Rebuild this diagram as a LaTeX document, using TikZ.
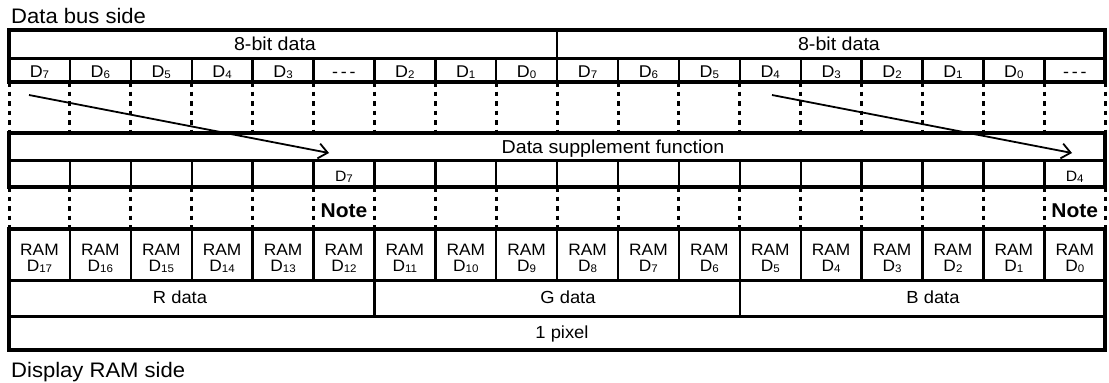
\documentclass[tikz,border=0pt]{standalone}
\usepackage{fontspec}
\setmainfont{Liberation Sans}[FakeStretch=1.05]
\usetikzlibrary{arrows.meta}
\newcommand\Dsub[1]{D\raisebox{-1.2pt}{\fontsize{11}{12}\selectfont #1}}
\begin{document}
\begin{tikzpicture}[x=1pt,y=-1pt,
  frame/.style={line width=3.6pt},
  sep/.style={line width=3pt},
  cellsep/.style={line width=2.4pt},
  thinsep/.style={line width=2pt},
  dots/.style={line width=3pt, dash pattern=on 4.5pt off 5pt},
  side/.style={font=\fontsize{21}{23}\selectfont, inner sep=0pt},
  head/.style={font=\fontsize{18.7}{20}\selectfont, inner sep=0pt},
  grp/.style={font=\fontsize{17.5}{19}\selectfont, inner sep=0pt},
  bit/.style={font=\fontsize{17}{18}\selectfont, inner sep=0pt},
  ramlbl/.style={font=\fontsize{16.5}{18}\selectfont, inner sep=0pt},
  small/.style={font=\fontsize{15}{16}\selectfont, inner sep=0pt},
  note/.style={font=\fontsize{20}{22}\selectfont\bfseries, inner sep=0pt},
  arr/.style={line width=1.8pt, -{Straight Barb[length=9pt,width=15pt,line width=1.8pt]}}
]
\useasboundingbox (0,0) rectangle (1109,383);
\def\xl{9}
\def\cw{60.9}

% side labels
\node[side, anchor=base west] (bus) at (11,23) {Data bus side};
\node[side, anchor=base west] (ram) at (11,377) {Display RAM side};

% ---- data bus section: two 8-bit words ----
\draw[frame] (\xl,30) rectangle (1105.2,82);
\draw[sep] (\xl,58) -- (1105.2,58);
\draw[thinsep] ({\xl+9*\cw},31) -- ({\xl+9*\cw},58);
\foreach \i in {1,...,17}
  \draw[cellsep] ({\xl+\i*\cw},58) -- ({\xl+\i*\cw},82);
\node[head, anchor=base] (w1) at (275,50) {8-bit data};
\node[head, anchor=base] (w2) at (839,50) {8-bit data};
\foreach \t [count=\i from 0] in {\Dsub{7},\Dsub{6},\Dsub{5},\Dsub{4},\Dsub{3},{-\,-\,-},\Dsub{2},\Dsub{1},\Dsub{0},
    \Dsub{7},\Dsub{6},\Dsub{5},\Dsub{4},\Dsub{3},\Dsub{2},\Dsub{1},\Dsub{0},{-\,-\,-}}
  \node[bit, anchor=base] (bus\i) at ({\xl+(\i+0.5)*\cw},77.5) {\t};

% dotted gap between bus and supplement stage
\foreach \i in {0,...,18}
  \draw[dots] ({\xl+\i*\cw},82) -- ({\xl+\i*\cw},133);

% ---- data supplement stage ----
\draw[frame] (\xl,133) rectangle (1105.2,187);
\draw[sep] (\xl,160) -- (1105.2,160);
\foreach \i in {1,...,17}
  \draw[cellsep] ({\xl+\i*\cw},160) -- ({\xl+\i*\cw},187);
\node[head, anchor=base] (dsf) at (613,153) {Data supplement function};
\node[small, anchor=base] (sup5) at ({\xl+5.5*\cw},181) {\Dsub{7}};
\node[small, anchor=base] (sup17) at ({\xl+17.5*\cw},181) {\Dsub{4}};

% copy arrows: MSB of each word into the supplemented bit
\coordinate (a1s) at (29,95);
\coordinate (a1e) at (329,153);
\coordinate (a2s) at (772,95);
\coordinate (a2e) at (1072,153);
\draw[arr] (a1s) -- (a1e);
\draw[arr] (a2s) -- (a2e);

% dotted gap between supplement stage and RAM
\foreach \i in {0,...,18}
  \draw[dots] ({\xl+\i*\cw},187) -- ({\xl+\i*\cw},229);
\node[note, anchor=base] (note5) at ({\xl+5.5*\cw},217) {Note};
\node[note, anchor=base] (note17) at ({\xl+17.5*\cw},217) {Note};

% ---- display RAM section ----
\draw[frame] (\xl,229) rectangle (1105.2,350);
\draw[sep] (\xl,280) -- (1105.2,280);
\draw[sep] (\xl,316.5) -- (1105.2,316.5);
\foreach \i in {1,...,17}
  \draw[cellsep] ({\xl+\i*\cw},229) -- ({\xl+\i*\cw},280);
\draw[cellsep] ({\xl+6*\cw},280) -- ({\xl+6*\cw},316.5);
\draw[cellsep] ({\xl+12*\cw},280) -- ({\xl+12*\cw},316.5);
\foreach \n [count=\i from 0] in {17,16,...,0} {
  \node[ramlbl, anchor=base] (ramt\i) at ({\xl+(\i+0.5)*\cw},255) {RAM};
  \node[ramlbl, anchor=base] (ramb\i) at ({\xl+(\i+0.5)*\cw},271) {\Dsub{\n}};
}
\node[grp, anchor=base] (rd) at (180,303) {R data};
\node[grp, anchor=base] (gd) at (568,303) {G data};
\node[grp, anchor=base] (bd) at (933,303) {B data};
\node[grp, anchor=base] (px) at (562,338) {1 pixel};
\end{tikzpicture}
\end{document}
